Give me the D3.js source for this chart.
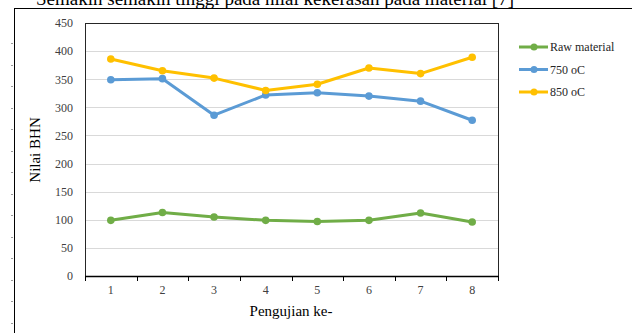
<!DOCTYPE html>
<html>
<head>
<meta charset="utf-8">
<script src="https://cdn.jsdelivr.net/npm/d3@7"></script>
<style>
  body { margin: 0; background: #fff; }
  svg { display: block; font-family: "Liberation Serif", "Times New Roman", serif; }
</style>
</head>
<body>
<div id="chart"></div>
<script>
var categories = ["1", "2", "3", "4", "5", "6", "7", "8"];
var rawMaterial = [99, 113, 105, 99, 97, 99, 112, 96];
var temp750 = [349, 351, 286, 322, 326, 320, 311, 277];
var temp850 = [386, 365, 352, 330, 341, 370, 360, 389];
var seriesNames = ["Raw material", "750 oC", "850 oC"];
var seriesColors = ["#70AD47", "#5B9BD5", "#FFC000"];
var yTicks = [0, 50, 100, 150, 200, 250, 300, 350, 400, 450];

function init() {
    var w = 632;
    var h = 333;

    var left = 85, right = 498, top = 23, bottom = 276;

    var svg = d3.select("#chart")
                .append("svg")
                .attr("width", w)
                .attr("height", h);

    // caption text of the page, cut off at the top
    svg.append("text")
       .attr("x", 36)
       .attr("y", 5)
       .attr("font-size", 19)
       .attr("fill", "#000")
       .text("Semakin semakin tinggi pada nilai kekerasan pada material [7]");

    // outer frame of the figure
    svg.append("rect")
       .attr("x", 0).attr("y", 8).attr("width", w).attr("height", h)
       .attr("fill", "#fff");
    svg.append("line")
       .attr("x1", 14.5).attr("x2", w).attr("y1", 8.5).attr("y2", 8.5)
       .attr("stroke", "#000").attr("stroke-width", 1);
    svg.append("line")
       .attr("x1", 14.5).attr("x2", 14.5).attr("y1", 8).attr("y2", h)
       .attr("stroke", "#000").attr("stroke-width", 1);

    // little ruler marks left of the frame
    for (var ry = 43; ry < h; ry += 21.5) {
        svg.append("line")
           .attr("x1", 11).attr("x2", 13)
           .attr("y1", Math.round(ry) + 0.5).attr("y2", Math.round(ry) + 0.5)
           .attr("stroke", "#999");
    }

    var xScale = d3.scaleBand()
                   .domain(categories)
                   .range([left, right])
                   .padding(0);

    var yScale = d3.scaleLinear()
                   .domain([0, 450])
                   .range([bottom, top]);

    // gridlines
    svg.append("g")
       .selectAll("line")
       .data(yTicks.slice(1))
       .enter()
       .append("line")
       .attr("x1", left)
       .attr("x2", right)
       .attr("y1", function(d) { return Math.round(yScale(d)) + 0.5; })
       .attr("y2", function(d) { return Math.round(yScale(d)) + 0.5; })
       .attr("stroke", "#d9d9d9")
       .attr("stroke-width", 1);

    // plot border
    svg.append("rect")
       .attr("x", left + 0.5)
       .attr("y", top + 0.5)
       .attr("width", right - left)
       .attr("height", bottom - top)
       .attr("fill", "none")
       .attr("stroke", "#262626")
       .attr("stroke-width", 1);

    // y axis labels
    var yAxis = d3.axisLeft(yScale)
                  .tickValues(yTicks)
                  .tickSize(0)
                  .tickPadding(12);
    var gy = svg.append("g")
                .attr("transform", "translate(" + left + ",0)")
                .call(yAxis);
    gy.select(".domain").remove();
    gy.selectAll("text")
      .attr("font-family", "Liberation Serif, serif")
      .attr("font-size", 12)
      .attr("fill", "#404040");

    // x axis
    var xAxis = d3.axisBottom(xScale)
                  .tickSize(0)
                  .tickPadding(9);
    var gx = svg.append("g")
                .attr("transform", "translate(0," + bottom + ")")
                .call(xAxis);
    gx.select(".domain").remove();
    gx.selectAll("text")
      .attr("font-family", "Liberation Serif, serif")
      .attr("font-size", 12)
      .attr("fill", "#404040");

    svg.append("line")
       .attr("x1", left).attr("x2", right + 1)
       .attr("y1", bottom + 0.5).attr("y2", bottom + 0.5)
       .attr("stroke", "#000").attr("stroke-width", 1.5);

    // tick marks between categories
    var bounds = categories.map(function(c) { return xScale(c); }).concat([right]);
    svg.append("g")
       .selectAll("line")
       .data(bounds)
       .enter()
       .append("line")
       .attr("x1", function(d) { return Math.round(d) + 0.5; })
       .attr("x2", function(d) { return Math.round(d) + 0.5; })
       .attr("y1", bottom)
       .attr("y2", bottom + 5)
       .attr("stroke", "#000");

    // lines
    var allSeries = [rawMaterial, temp750, temp850];
    var line = d3.line()
                 .x(function(d, i) { return xScale(categories[i]) + xScale.bandwidth() / 2; })
                 .y(function(d) { return yScale(d); });

    allSeries.forEach(function(s, k) {
        svg.append("path")
           .datum(s)
           .attr("d", line)
           .attr("fill", "none")
           .attr("stroke", seriesColors[k])
           .attr("stroke-width", 3)
           .attr("stroke-linejoin", "round");

        svg.selectAll(".dot" + k)
           .data(s)
           .enter()
           .append("circle")
           .attr("cx", function(d, i) { return xScale(categories[i]) + xScale.bandwidth() / 2; })
           .attr("cy", function(d) { return yScale(d); })
           .attr("r", 3.8)
           .attr("fill", seriesColors[k]);
    });

    // axis titles
    svg.append("text")
       .attr("x", 291)
       .attr("y", 316)
       .attr("text-anchor", "middle")
       .attr("font-size", 15)
       .attr("fill", "#000")
       .text("Pengujian ke-");

    svg.append("text")
       .attr("transform", "translate(40,150) rotate(-90)")
       .attr("text-anchor", "middle")
       .attr("font-size", 15)
       .attr("fill", "#000")
       .text("Nilai BHN");

    // legend
    var legend = svg.append("g")
                    .selectAll("g")
                    .data(seriesNames)
                    .enter()
                    .append("g")
                    .attr("transform", function(d, i) { return "translate(519," + (47 + i * 22.5) + ")"; });
    legend.append("line")
          .attr("x1", 0).attr("x2", 29)
          .attr("stroke", function(d, i) { return seriesColors[i]; })
          .attr("stroke-width", 3);
    legend.append("circle")
          .attr("cx", 15)
          .attr("r", 3.5)
          .attr("fill", function(d, i) { return seriesColors[i]; });
    legend.append("text")
          .attr("x", 31)
          .attr("y", 4)
          .attr("font-size", 12)
          .attr("fill", "#262626")
          .text(function(d) { return d; });
}

window.onload = init;
</script>
</body>
</html>
